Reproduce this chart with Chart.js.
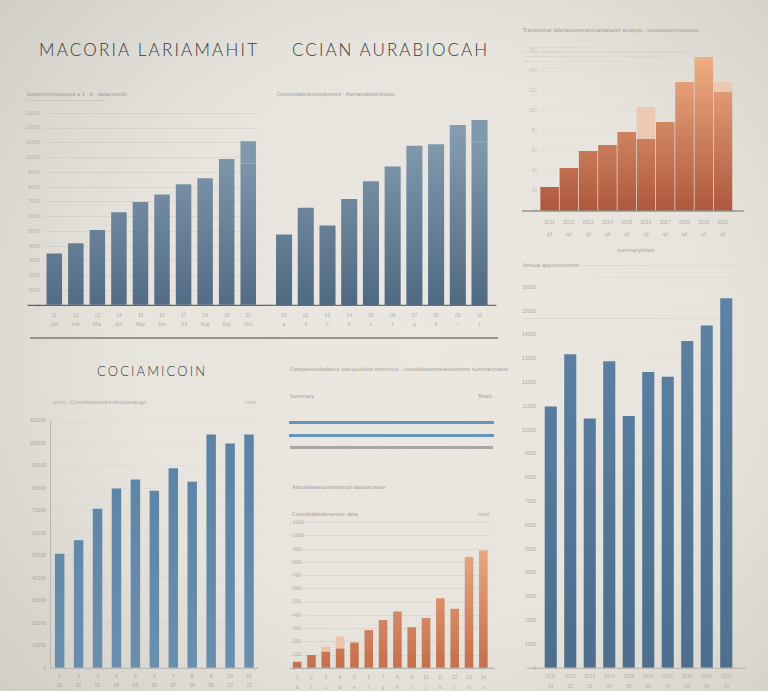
<!DOCTYPE html>
<html><head><meta charset="utf-8">
<script src="https://cdn.jsdelivr.net/npm/chart.js@4.4.1/dist/chart.umd.min.js"></script>
<style>
html,body{margin:0;padding:0;}
body{width:768px;height:691px;overflow:hidden;position:relative;
background: radial-gradient(ellipse 72% 78% at 55% 50%, #ebe8e2 0%, #e7e4de 55%, #d1cec8 100%);
font-family: Lato, 'Open Sans', sans-serif;}
canvas{position:absolute;}
.t{position:absolute;white-space:nowrap;color:#3a3a3a;font-weight:300;line-height:1;}
.s{position:absolute;white-space:nowrap;color:#95938e;font-size:5px;line-height:1;font-family:'DejaVu Sans',sans-serif;}
.ln{position:absolute;}
</style></head><body>

<div class="t" id="t1" style="left:39px;top:41px;font-size:17px;" data-w="218">MACORIA LARIAMAHIT</div>
<div class="t" id="t2" style="left:292px;top:41px;font-size:17px;" data-w="195">CCIAN AURABIOCAH</div>
<div class="t" id="t3" style="left:97px;top:365px;font-size:13px;" data-w="108">COCIAMICOIN</div>

<div class="s" style="left:27px;top:92px;">Semanticmeasured a 1 · 4 · dataconsist</div>
<div class="ln" style="left:27px;top:100px;width:78px;height:1px;background:#c9c6c0;"></div>
<div class="s" style="left:277px;top:92px;">Consolidatedcomplement · Aumainddistributes</div>
<div class="s" style="left:523px;top:28px;">Transitional labelanumerationaldataset analysis · iexpansionmeasures</div>
<div class="ln" style="left:523px;top:47px;width:167px;height:1px;background:#dcd9d3;"></div>
<div class="ln" style="left:523px;top:52px;width:160px;height:1px;background:#d6d3cd;"></div>
<div class="ln" style="left:523px;top:56px;width:140px;height:1px;background:#dad7d1;"></div>
<div class="ln" style="left:523px;top:61px;width:100px;height:1px;background:#dcd9d3;"></div>
<div class="ln" style="left:523px;top:68px;width:167px;height:1px;background:#e0ddd7;"></div>
<div class="s" style="left:617px;top:248px;color:#9a9892;">summarytotals</div>
<div class="s" style="left:523px;top:263px;">Annual apportionment</div>
<div class="ln" style="left:580px;top:265px;width:155px;height:1px;background:#dcd9d3;"></div>
<div class="ln" style="left:595px;top:277px;width:140px;height:1px;background:#dfdcd6;"></div>
<div class="ln" style="left:523px;top:318px;width:212px;height:1px;background:#dcd9d3;"></div>

<div class="ln" style="left:30px;top:337px;width:468px;height:2px;background:#7a7a78;opacity:0.75;"></div>

<div class="s" style="left:53px;top:400px;color:#a3a19b;">units · Consolidateddistributionrange</div>
<div class="s" style="left:245px;top:400px;color:#b3b0aa;">total</div>
<div class="s" style="left:290px;top:367px;">Comparisonbalance ofacquisition reference · consolidatedmeasurement summarytable</div>
<div class="s" style="left:290px;top:394px;">Summary</div>
<div class="s" style="left:478px;top:394px;">Totals</div>
<div class="ln" style="left:289px;top:421px;width:205px;height:3px;background:#4f86b3;opacity:0.85;"></div>
<div class="ln" style="left:289px;top:434px;width:205px;height:3px;background:#4f86b3;opacity:0.85;"></div>
<div class="ln" style="left:290px;top:446px;width:203px;height:3px;background:#8c8c8c;opacity:0.7;"></div>
<div class="s" style="left:292px;top:485px;">Annualmeasurementsof dataincrease</div>
<div class="s" style="left:292px;top:512px;">Consolidatedrevenue data</div>
<div class="s" style="left:478px;top:512px;color:#a9a6a0;">total</div>

<canvas id="cA"></canvas>
<canvas id="cB"></canvas>
<canvas id="cC"></canvas>
<canvas id="cD"></canvas>
<canvas id="cE"></canvas>
<canvas id="cF"></canvas>

<script>
// ---------- DATA ----------
const labelsA = [['11','Jan'],['12','Feb'],['13','Mar'],['14','Apr'],['15','May'],['16','Jun'],['17','Jul'],['18','Aug'],['19','Sep'],['20','Oct']];
const valuesA = [35, 42, 51, 63, 70, 75, 82, 86, 99, 96];
const capA    = [0, 0, 0, 0, 0, 0, 0, 0, 0, 15];

const labelsB = [['01','a'],['02','b'],['03','c'],['04','d'],['05','e'],['06','f'],['07','g'],['08','h'],['09','i'],['10','j']];
const valuesB = [48, 66, 54, 72, 84, 94, 108, 109, 122, 111];
const capB    = [0, 0, 0, 0, 0, 0, 0, 0, 0, 14.5];

const labelsC = [['2011','q1'],['2012','q2'],['2013','q3'],['2014','q4'],['2015','q1'],['2016','q2'],['2017','q3'],['2018','q4'],['2019','q1'],['2020','q2']];
const valuesC = [24, 43, 60, 66, 79, 72, 89, 129, 154, 119];
const capC    = [0, 0, 0, 0, 0, 32, 0, 0, 0, 10];

const labelsD = [['1','01'],['2','02'],['3','03'],['4','04'],['5','05'],['6','06'],['7','07'],['8','08'],['9','09'],['10','10'],['11','11']];
const valuesD = [51, 57, 71, 80, 84, 79, 89, 83, 104, 100, 104];

const labelsE = [['1','a'],['2','b'],['3','c'],['4','d'],['5','e'],['6','f'],['7','g'],['8','h'],['9','i'],['10','j'],['11','k'],['12','l'],['13','m'],['14','n']];
const valuesE = [5, 10, 12.5, 15, 19.5, 29, 36.5, 43, 31, 38, 53, 45, 84, 89];
const capE    = [0, 0, 4, 9, 0, 0, 0, 0, 0, 0, 0, 0, 0, 0];

const labelsF = [['2011','01'],['2012','02'],['2013','03'],['2014','04'],['2015','05'],['2016','06'],['2017','07'],['2018','08'],['2019','09'],['2020','10']];
const valuesF = [110, 132, 105, 129, 106, 124.5, 122.5, 137.5, 144, 155.5];

// ---------- HELPERS ----------
const baseExt = {id:'baseExt', afterDatasetsDraw(ch, args, o){
  if(!o || !o.color) return;
  const a = ch.chartArea, y = ch.scales.y.getPixelForValue(0), c = ch.ctx;
  c.save(); c.strokeStyle = o.color; c.lineWidth = o.width || 1;
  c.beginPath(); c.moveTo(a.left - (o.l||0), y); c.lineTo(a.right + (o.r||0), y); c.stroke(); c.restore();
}};
Chart.register(baseExt);

function grad(top, bottom){
  return (ctx) => {
    const ch = ctx.chart, a = ch.chartArea;
    if(!a) return top;
    const g = ch.ctx.createLinearGradient(0, a.top, 0, a.bottom);
    g.addColorStop(0, top); g.addColorStop(1, bottom);
    return g;
  };
}

function place(id, b){
  const c = document.getElementById(id);
  c.width = b.w; c.height = b.h;
  c.style.left = b.x + 'px'; c.style.top = b.y + 'px';
  c.style.width = b.w + 'px'; c.style.height = b.h + 'px';
  return c;
}

function make(id, b, a, labels, datasets, o){
  const c = place(id, b);
  return new Chart(c, {
    type: 'bar',
    data: {labels, datasets},
    options: {
      responsive: false, animation: false, devicePixelRatio: 1,
      layout: {padding: {top: a.top - b.y, right: (b.x + b.w) - a.right, left: o.ydisp ? 0 : a.left - b.x, bottom: 0}},
      plugins: {legend: {display: false}, tooltip: {enabled: false}, baseExt: o.base},
      scales: {
        x: {stacked: true, grid: {display: false, drawTicks: false}, border: {display: false},
            ticks: {autoSkip: false, maxRotation: 0, minRotation: 0, font: {size: 5, lineHeight: o.xlh || 1.8}, color: o.xc, padding: o.xpad},
            afterFit: s => { s.height = (b.y + b.h) - a.bottom; }},
        y: {stacked: true, min: 0, max: o.max, display: o.ydisp,
            ticks: {stepSize: o.step, font: {size: 5}, color: o.yc || '#aaa79f', padding: o.ypad || 3, mirror: !!o.mirror,
                    callback: v => String(v * (o.mul || 100))},
            grid: {color: o.gc || 'rgba(0,0,0,0)', drawTicks: false, lineWidth: 1},
            border: {display: !!o.yborder, color: o.yborder || '#000'},
            afterFit: s => { s.width = a.left - b.x; }}
      }
    }
  });
}

function ds(data, color, bp){
  return {data, backgroundColor: color, borderWidth: 0, barPercentage: bp, categoryPercentage: 1};
}

// ---------- CHARTS ----------
make('cA', {x:0, y:90, w:275, h:250}, {left:43.5, top:113.3, right:259, bottom:305.3}, labelsA,
  [ds(valuesA, grad('#8ba2b5', '#536c85'), 0.72), ds(capA, '#8199ad', 0.72)],
  {max:130, step:10, ydisp:true, yc:'#b2afa8', gc:'rgba(120,118,110,0.12)', mul:100, ypad:4,
   xc:'#b0ada7', xpad:6, base:{color:'#5b6570', width:1.3, l:16, r:11}});

make('cB', {x:265, y:90, w:240, h:250}, {left:269.1, top:113.3, right:490.4, bottom:305.3}, labelsB,
  [ds(valuesB, grad('#8aa1b4', '#4f6981'), 0.74), ds(capB, '#7f98ac', 0.74)],
  {max:130, step:10, ydisp:false, xc:'#b0ada7', xpad:6, base:{color:'#6a7178', width:1.3, l:5, r:6}});

make('cC', {x:515, y:40, w:245, h:210}, {left:540, top:51, right:732.7, bottom:211}, labelsC,
  [ds(valuesC, grad('#f2b186', '#ad573c'), 0.965), ds(capC, 'rgba(236,196,170,0.85)', 0.965)],
  {max:160, step:20, ydisp:true, yc:'#c6c3bc', gc:'rgba(120,118,110,0.05)', mul:1, ypad:3,
   xc:'#b0ada7', xpad:6, xlh:2.4, base:{color:'#6a6a68', width:1.2, l:18, r:11}});

make('cD', {x:0, y:395, w:270, h:296}, {left:50.2, top:421, right:258.5, bottom:668.3}, labelsD,
  [ds(valuesD, grad('#5a82a5', '#6a8fae'), 0.5)],
  {max:110, step:10, ydisp:true, yc:'#a9a69f', gc:'rgba(120,118,110,0.05)', mul:1000, ypad:4,
   yborder:'#b9b7b1', xc:'#a9a69f', xpad:4, xlh:1.8, base:{color:'#b5b3ad', width:1, l:0, r:0}});

make('cE', {x:280, y:505, w:220, h:186}, {left:290, top:522.7, right:490.5, bottom:668.3}, labelsE,
  [ds(valuesE, grad('#efb48c', '#c46f4c'), 0.6), ds(capE, 'rgba(238,190,160,0.8)', 0.6)],
  {max:110, step:10, ydisp:true, yc:'#b3b0a9', gc:'rgba(120,118,110,0.11)', mul:10, ypad:3, mirror:true,
   xc:'#b0ada7', xpad:5, xlh:1.9, base:{color:'#a9a7a1', width:1, l:0, r:4}});

make('cF', {x:505, y:255, w:263, h:436}, {left:541, top:287.5, right:736, bottom:668.3}, labelsF,
  [ds(valuesF, grad('#5d83a5', '#4d6e8d'), 0.62)],
  {max:160, step:10, ydisp:true, yc:'#aba8a2', gc:'rgba(120,118,110,0.04)', mul:100, ypad:5,
   xc:'#b3b0aa', xpad:4, xlh:1.9, base:{color:'#b5b3ad', width:1, l:14, r:10}});

// ---------- title fitting ----------
document.querySelectorAll('.t').forEach(el => {
  const target = +el.dataset.w, n = el.textContent.length;
  const w = el.getBoundingClientRect().width;
  el.style.letterSpacing = ((target - w) / (n - 1)) + 'px';
});
</script>
</body></html>
